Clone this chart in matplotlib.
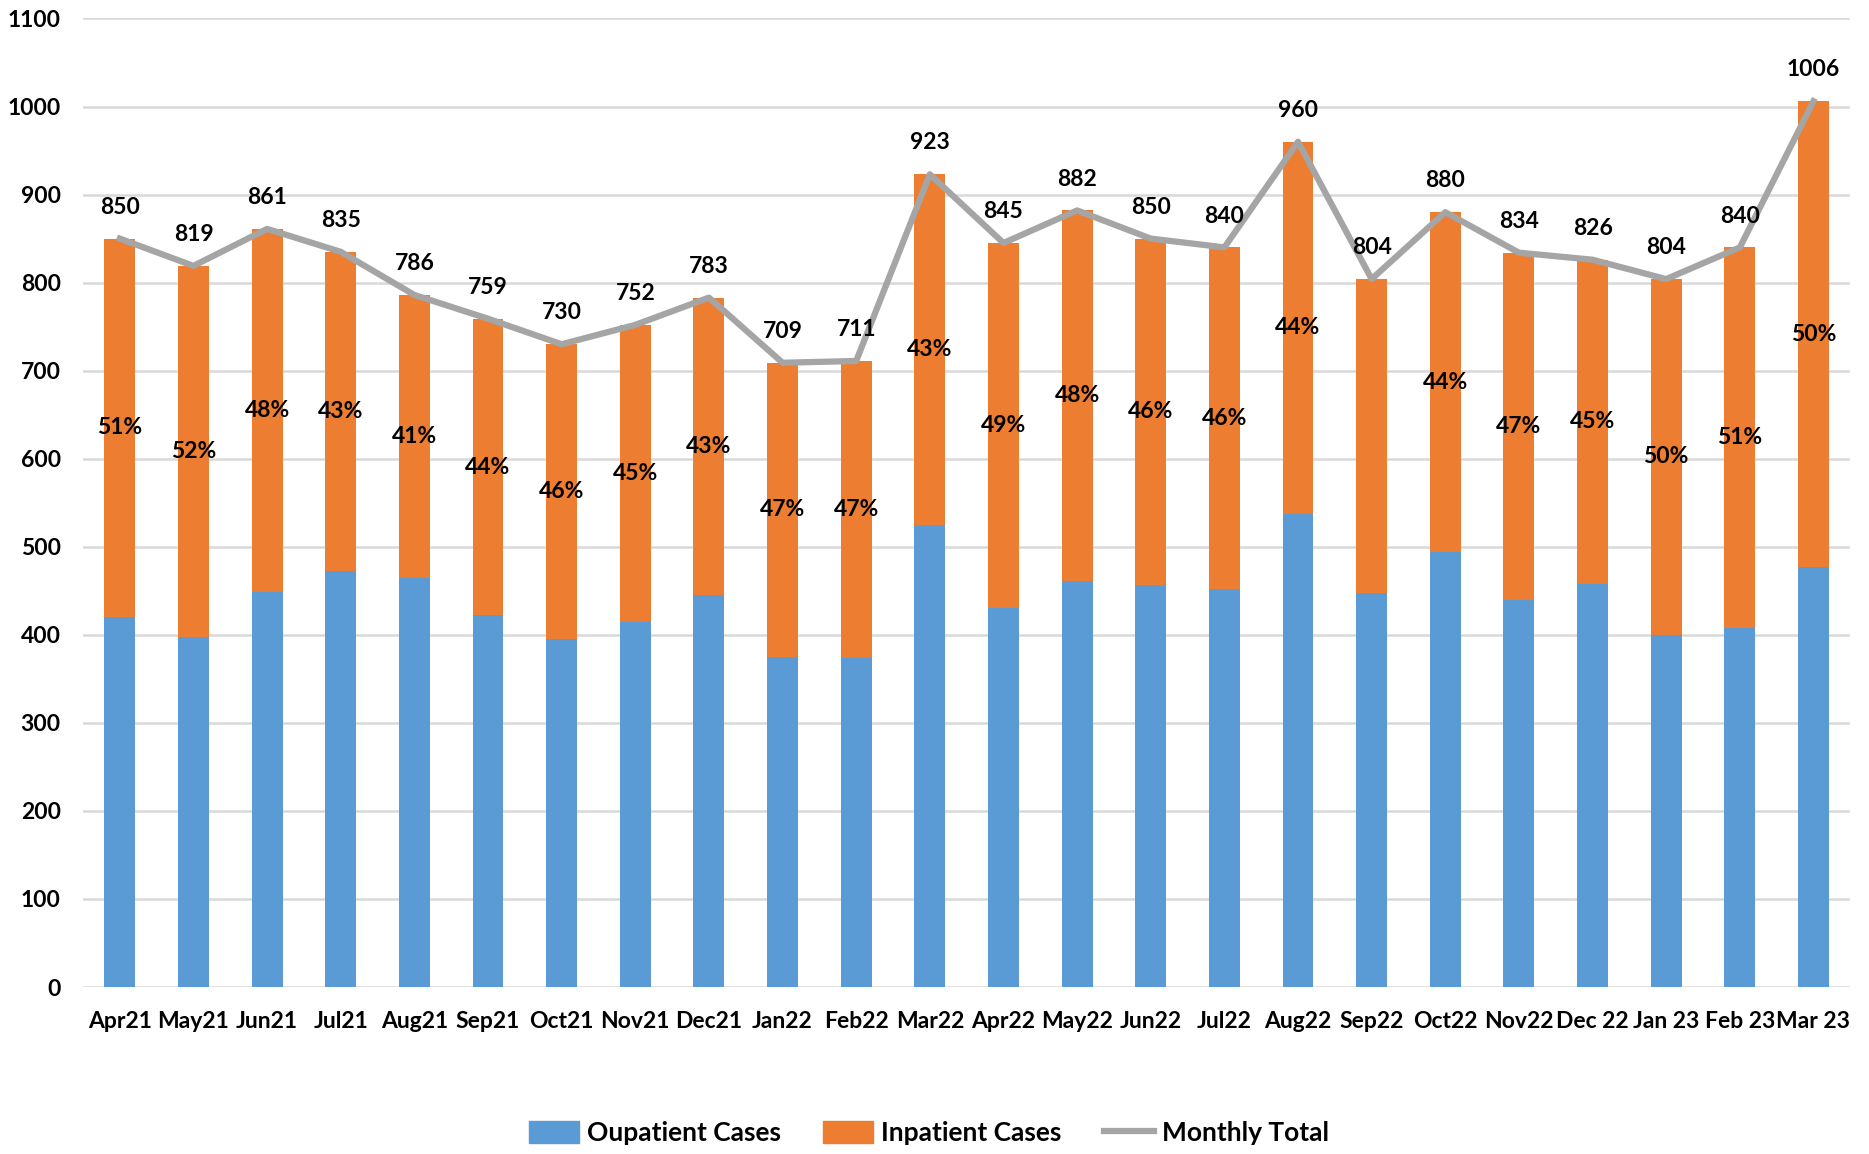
import numpy as np
import matplotlib
matplotlib.use("Agg")
from matplotlib import pyplot as plt
import matplotlib.patches as mpatches
from matplotlib.lines import Line2D

plt.rcParams['font.family'] = ['Lato', 'DejaVu Sans']
plt.rcParams['font.weight'] = 'bold'

meses = ["Apr21", "May21", "Jun21", "Jul21", "Aug21", "Sep21", "Oct21", "Nov21",
         "Dec21", "Jan22", "Feb22", "Mar22", "Apr22", "May22", "Jun22", "Jul22",
         "Aug22", "Sep22", "Oct22", "Nov22", "Dec 22", "Jan 23", "Feb 23", "Mar 23"]

totales = [850, 819, 861, 835, 786, 759, 730, 752, 783, 709, 711, 923,
           845, 882, 850, 840, 960, 804, 880, 834, 826, 804, 840, 1006]

ambulatorios = [420, 397, 449, 473, 464, 422, 395, 414, 445, 375, 374, 525,
                431, 461, 457, 452, 537, 447, 494, 439, 458, 400, 408, 477]

# porcentaje de hospitalizados (Sep22 sin etiqueta en el original)
porcentajes = ["51%", "52%", "48%", "43%", "41%", "44%", "46%", "45%",
               "43%", "47%", "47%", "43%", "49%", "48%", "46%", "46%",
               "44%", "", "44%", "47%", "45%", "50%", "51%", "50%"]

hospitalizados = [t - a for t, a in zip(totales, ambulatorios)]

AZUL = "#5B9BD5"
NARANJA = "#ED7D31"
GRIS = "#A5A5A5"

fig = plt.figure(figsize=(18.69, 11.54), dpi=100)
ax = fig.add_axes([0.0444, 0.1447, 0.9456, 0.8393])

x = np.arange(len(meses))
ax.bar(x, ambulatorios, width=0.42, color=AZUL, zorder=2)
ax.bar(x, hospitalizados, width=0.42, bottom=ambulatorios, color=NARANJA, zorder=2)
ax.plot(x, totales, color=GRIS, linewidth=4.5, zorder=3)

for i in range(len(meses)):
    ax.annotate(str(totales[i]), (x[i], totales[i]), xytext=(0, 15),
                textcoords="offset points", ha="center", va="bottom",
                fontsize=16.5, fontweight="bold", zorder=4)
    if porcentajes[i]:
        centro = ambulatorios[i] + hospitalizados[i] / 2
        ax.text(x[i], centro, porcentajes[i], ha="center", va="center",
                fontsize=16.5, fontweight="bold", zorder=4)

ax.set_xlim(-0.5, len(meses) - 0.5)
ax.set_ylim(0, 1100)
ax.set_yticks(range(0, 1101, 100))
ax.set_xticks(x)
ax.set_xticklabels(meses)
ax.tick_params(axis="both", length=0, labelsize=16.5)
ax.tick_params(axis="y", pad=16)
ax.tick_params(axis="x", pad=17)
for lab in ax.get_xticklabels() + ax.get_yticklabels():
    lab.set_fontweight("bold")

ax.grid(axis="y", color="#D9D9D9", linewidth=1.8, zorder=0)
ax.set_axisbelow(True)
for s in ax.spines.values():
    s.set_visible(False)

leyendas = [mpatches.Patch(color=AZUL, label="Oupatient Cases"),
            mpatches.Patch(color=NARANJA, label="Inpatient Cases"),
            Line2D([0], [0], color=GRIS, linewidth=4.5, label="Monthly Total")]
fig.legend(handles=leyendas, loc="center", bbox_to_anchor=(0.497, 0.018), ncol=3,
           frameon=False, prop={"size": 19, "weight": "bold"},
           handlelength=1.9, handleheight=0.9, columnspacing=1.6, handletextpad=0.3)

fig.savefig("out.png", dpi=100)
